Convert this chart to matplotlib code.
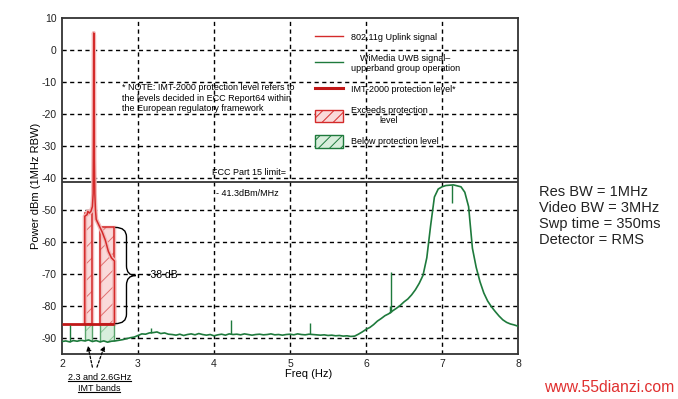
import numpy as np
import matplotlib
matplotlib.use("Agg")
import matplotlib.pyplot as plt
from matplotlib.patches import Rectangle, Patch, PathPatch
from matplotlib.lines import Line2D
from matplotlib.path import Path

plt.rcParams['font.family'] = ['Liberation Sans', 'DejaVu Sans']
plt.rcParams['axes.unicode_minus'] = False
plt.rcParams['hatch.linewidth'] = 0.7
NARROW = ['Liberation Sans Narrow', 'Liberation Sans', 'DejaVu Sans']

# ---------------- data ----------------
green_freq = [2.00, 2.05, 2.10, 2.15, 2.20, 2.25, 2.30, 2.35, 2.40, 2.45, 2.50, 2.55, 2.60, 2.65,
              2.70, 2.75, 2.80, 2.85, 2.90, 2.95, 3.00, 3.05, 3.10, 3.15, 3.20, 3.25, 3.30, 3.35,
              3.40, 3.45, 3.50, 3.55, 3.60, 3.65, 3.70, 3.75, 3.80, 3.85, 3.90, 3.95, 4.00, 4.05,
              4.10, 4.15, 4.20, 4.25, 4.30, 4.35, 4.40, 4.45, 4.50, 4.55, 4.60, 4.65, 4.70, 4.75,
              4.80, 4.85, 4.90, 4.95, 5.00, 5.05, 5.10, 5.15, 5.20, 5.25, 5.30, 5.35, 5.40, 5.45,
              5.50, 5.55, 5.60, 5.65, 5.70, 5.75, 5.80, 5.85, 5.90, 5.95, 6.00, 6.05, 6.10, 6.15,
              6.20, 6.25, 6.30, 6.35, 6.40, 6.45, 6.50, 6.55, 6.60, 6.65, 6.70, 6.75, 6.80, 6.85,
              6.90, 6.95, 7.00, 7.05, 7.10, 7.15, 7.20, 7.25, 7.30, 7.35, 7.40, 7.45, 7.50, 7.55,
              7.60, 7.65, 7.70, 7.75, 7.80, 7.85, 7.90, 7.95, 8.00]
green_dbm = [-91.2, -91.0, -91.3, -90.9, -91.1, -90.8, -91.0, -90.7, -91.2, -90.9, -91.3, -91.0, -91.4, -91.1,
             -91.0, -90.8, -90.6, -90.3, -90.0, -89.8, -89.3, -88.8, -88.9, -88.5, -88.4, -88.2, -88.7, -88.5,
             -88.9, -89.0, -89.2, -88.9, -89.3, -89.0, -88.8, -89.1, -88.7, -89.0, -89.2, -89.0, -89.4, -89.1,
             -88.9, -89.2, -88.8, -89.0, -88.9, -89.1, -88.8, -89.0, -89.2, -89.0, -88.9, -89.1, -89.0, -88.8,
             -89.1, -89.0, -89.2, -89.0, -88.9, -89.1, -88.8, -89.0, -89.1, -88.9, -89.0, -89.1, -89.2, -89.1,
             -89.3, -89.2, -89.4, -89.3, -89.5, -89.4, -89.6, -89.5, -88.9, -88.2, -87.4, -86.8, -85.9, -84.8,
             -84.0, -83.1, -82.5, -81.6, -80.8, -79.9, -78.8, -77.9, -76.6, -75.0, -73.0, -70.5, -65.0, -55.0,
             -46.0, -43.5, -42.8, -42.4, -42.3, -42.2, -42.5, -42.8, -44.5, -49.0, -62.0, -68.0, -72.5, -76.0,
             -78.5, -80.3, -81.8, -83.2, -84.4, -85.2, -85.7, -86.0, -86.4]
green_spike_freq = [2.10, 3.17, 4.22, 5.26, 6.31, 6.33, 7.13]
green_spike_dbm = [-86.0, -87.0, -84.5, -85.3, -80.0, -69.3, -47.8]

red_freq = [2.30, 2.30, 2.33, 2.34, 2.36, 2.38, 2.40, 2.41, 2.415, 2.418, 2.422, 2.426, 2.432,
            2.44, 2.45, 2.48, 2.50, 2.53, 2.57, 2.61, 2.65, 2.69, 2.69]
red_dbm = [-85.6, -52.0, -51.5, -50.5, -51.0, -50.5, -49.0, -45.0, -25.0, 5.3, 4.5, -34.0, -45.0,
           -50.0, -53.0, -54.5, -55.5, -57.0, -59.5, -63.0, -65.0, -66.0, -85.6]

imt_band_lo = [2.30, 2.50]
imt_band_hi = [2.39, 2.69]
imt_band_top = [-51.0, -55.5]
protection_level = -85.6
protection_end = 2.69
fcc_limit = -41.3

x_ticks = [2, 3, 4, 5, 6, 7, 8]
y_ticks = [10, 0, -10, -20, -30, -40, -50, -60, -70, -80, -90]

# ---------------- figure ----------------
W, H = 678, 399
fig = plt.figure(figsize=(W / 100, H / 100), dpi=100)
ax = fig.add_axes([62 / W, 1 - 353.7 / H, 456 / W, (353.7 - 18) / H])
ax.set_xlim(2, 8)
ax.set_ylim(-95, 10)

RED = '#d42a2a'
PALE_RED = '#fadada'
DARK_RED = '#c01818'
GREEN = '#1e7a3c'
PALE_GREEN = '#d8eedc'

# grid
for xv in x_ticks[1:-1]:
    ax.axvline(xv, color='black', lw=1.0, ls=(0, (3, 2.5)), zorder=1)
for yv in y_ticks[1:]:
    ax.axhline(yv, color='black', lw=1.0, ls=(0, (3, 2.5)), zorder=1)

# FCC limit
ax.axhline(fcc_limit, color='#333333', lw=1.3, zorder=2)

# red boxes (exceeds protection level)
for lo, hi, top in zip(imt_band_lo, imt_band_hi, imt_band_top):
    ax.add_patch(Rectangle((lo, protection_level), hi - lo, top - protection_level,
                           facecolor=PALE_RED, edgecolor='#f4c0c0', lw=2.5, zorder=2))
    ax.add_patch(Rectangle((lo, protection_level), hi - lo, top - protection_level,
                           facecolor='none', edgecolor='#e07070', lw=0.0, hatch='//', zorder=3))
    ax.add_patch(Rectangle((lo, protection_level), hi - lo, top - protection_level,
                           facecolor='none', edgecolor=RED, lw=1.1, zorder=4))

gf = np.array(green_freq)
gd = np.array(green_dbm)
# green boxes (below protection level)
for lo, hi in zip(imt_band_lo, imt_band_hi):
    base = np.interp([lo, hi], gf, gd)
    ax.add_patch(Rectangle((lo, min(base)), hi - lo, protection_level - min(base),
                           facecolor=PALE_GREEN, edgecolor='#8cc898', lw=0.0, hatch='//', zorder=2))
    ax.vlines([lo, hi], np.interp([lo, hi], gf, gd), protection_level, color='#5aa56c', lw=1.0, zorder=4)

# red signal with glow
ax.plot(red_freq, red_dbm, color='#f3b8b8', lw=3.0, solid_capstyle='butt', zorder=4)
ax.plot(red_freq, red_dbm, color=RED, lw=1.1, zorder=5)

# protection level
ax.hlines(protection_level, 2.0, protection_end, color=DARK_RED, lw=2.0, zorder=6)

# green signal
ax.plot(gf, gd, color=GREEN, lw=1.2, zorder=6)
ax.vlines(green_spike_freq, np.interp(green_spike_freq, gf, gd), green_spike_dbm,
          color=GREEN, lw=1.0, zorder=6)

# ticks and labels
ax.set_xticks(x_ticks)
ax.set_yticks(y_ticks)
ax.tick_params(length=0, labelsize=7.5, pad=4, colors='#222222')
for s in ax.spines.values():
    s.set_color('#333333')
    s.set_linewidth(1.3)
ax.set_xlabel('Freq (Hz)', fontsize=8)
ax.set_ylabel('Power dBm (1MHz RBW)', fontsize=8)
ax.xaxis.set_label_coords(0.54, -0.045)
ax.yaxis.set_label_coords(-0.045, 0.5)

# annotations
ax.text(2.79, -10.3, '* NOTE: IMT-2000 protection level refers to\nthe levels decided in ECC Report64 within\n'
        'the European regulatory framework', fontsize=6.5, family=NARROW, va='top', ha='left',
        linespacing=1.25, zorder=7)
ax.text(3.97, -38.3, 'FCC Part 15 limit=', fontsize=6.5, family=NARROW, va='center', ha='left', zorder=7)
ax.text(4.03, -44.9, '- 41.3dBm/MHz', fontsize=6.5, family=NARROW, va='center', ha='left', zorder=7)
ax.text(3.12, -70.3, '-38 dB', fontsize=7.5, family=NARROW, va='center', ha='left', zorder=7)

# curly brace
bx0, bw = 2.70, 0.27
btop, bbot = imt_band_top[1], protection_level
bmid = (btop + bbot) / 2
bxm = bx0 + bw * 0.55
verts = [(bx0, btop), (bxm, btop), (bxm, btop - 3),
         (bxm, bmid + 3), (bxm, bmid), (bx0 + bw, bmid),
         (bxm, bmid), (bxm, bmid - 3),
         (bxm, bbot + 3), (bxm, bbot), (bx0, bbot)]
codes = [Path.MOVETO, Path.CURVE3, Path.CURVE3,
         Path.LINETO, Path.CURVE3, Path.CURVE3,
         Path.CURVE3, Path.CURVE3,
         Path.LINETO, Path.CURVE3, Path.CURVE3]
ax.add_patch(PathPatch(Path(verts, codes), facecolor='none', edgecolor='black', lw=1.0, zorder=7,
                       clip_on=False))

# IMT bands label with dashed arrows
t1 = ax.text(2.49, -102.3, '2.3 and 2.6GHz', fontsize=6.5, family=NARROW, ha='center', va='center',
             clip_on=False)
t2 = ax.text(2.49, -105.8, 'IMT bands', fontsize=6.5, family=NARROW, ha='center', va='center',
             clip_on=False)
for tx, tip in [(2.40, 2.34), (2.46, 2.56)]:
    ax.annotate('', xy=(tip, -92.5), xytext=(tx, -99.2), annotation_clip=False,
                arrowprops=dict(arrowstyle='-|>', color='black', lw=0.9, ls=(0, (2, 1.5)),
                                mutation_scale=7, shrinkA=0, shrinkB=0))

# legend
handles = [Line2D([], [], color=RED, lw=1.0),
           Line2D([], [], color=GREEN, lw=1.0),
           Line2D([], [], color=DARK_RED, lw=2.2),
           Patch(facecolor=PALE_RED, edgecolor=RED, hatch='///'),
           Patch(facecolor=PALE_GREEN, edgecolor=GREEN, hatch='///')]
labels = ['802.11g Uplink signal',
          'WiMedia UWB signal\u2013\nupperband group operation',
          'IMT-2000 protection level*',
          'Exceeds protection\nlevel',
          'Below protection level']
leg = ax.legend(handles, labels, loc='upper left', bbox_to_anchor=(0.548, 0.972), frameon=False,
                prop={'family': NARROW, 'size': 6.5}, handlelength=3.0, handleheight=1.8,
                labelspacing=1.1, handletextpad=0.9, borderaxespad=0)
for t in leg.get_texts():
    t.set_multialignment('center')
leg.set_zorder(8)

# right side info text
fig.text(539 / W, 1 - 185 / H, 'Res BW = 1MHz\nVideo BW = 3MHz\nSwp time = 350ms\nDetector = RMS',
         fontsize=10.5, va='top', ha='left', linespacing=1.17, color='#222222')
fig.text(674 / W, 1 - 388 / H, 'www.55dianzi.com', fontsize=11.3, color='#e03030', ha='right', va='center')

# underline bottom label
fig.canvas.draw()
r = fig.canvas.get_renderer()
for t in (t1, t2):
    bb = t.get_window_extent(r)
    fig.add_artist(Line2D([bb.x0 / W, bb.x1 / W], [(bb.y0 + 0.5) / H, (bb.y0 + 0.5) / H],
                          transform=fig.transFigure, color='black', lw=0.8))

fig.savefig('out.png', dpi=100)
